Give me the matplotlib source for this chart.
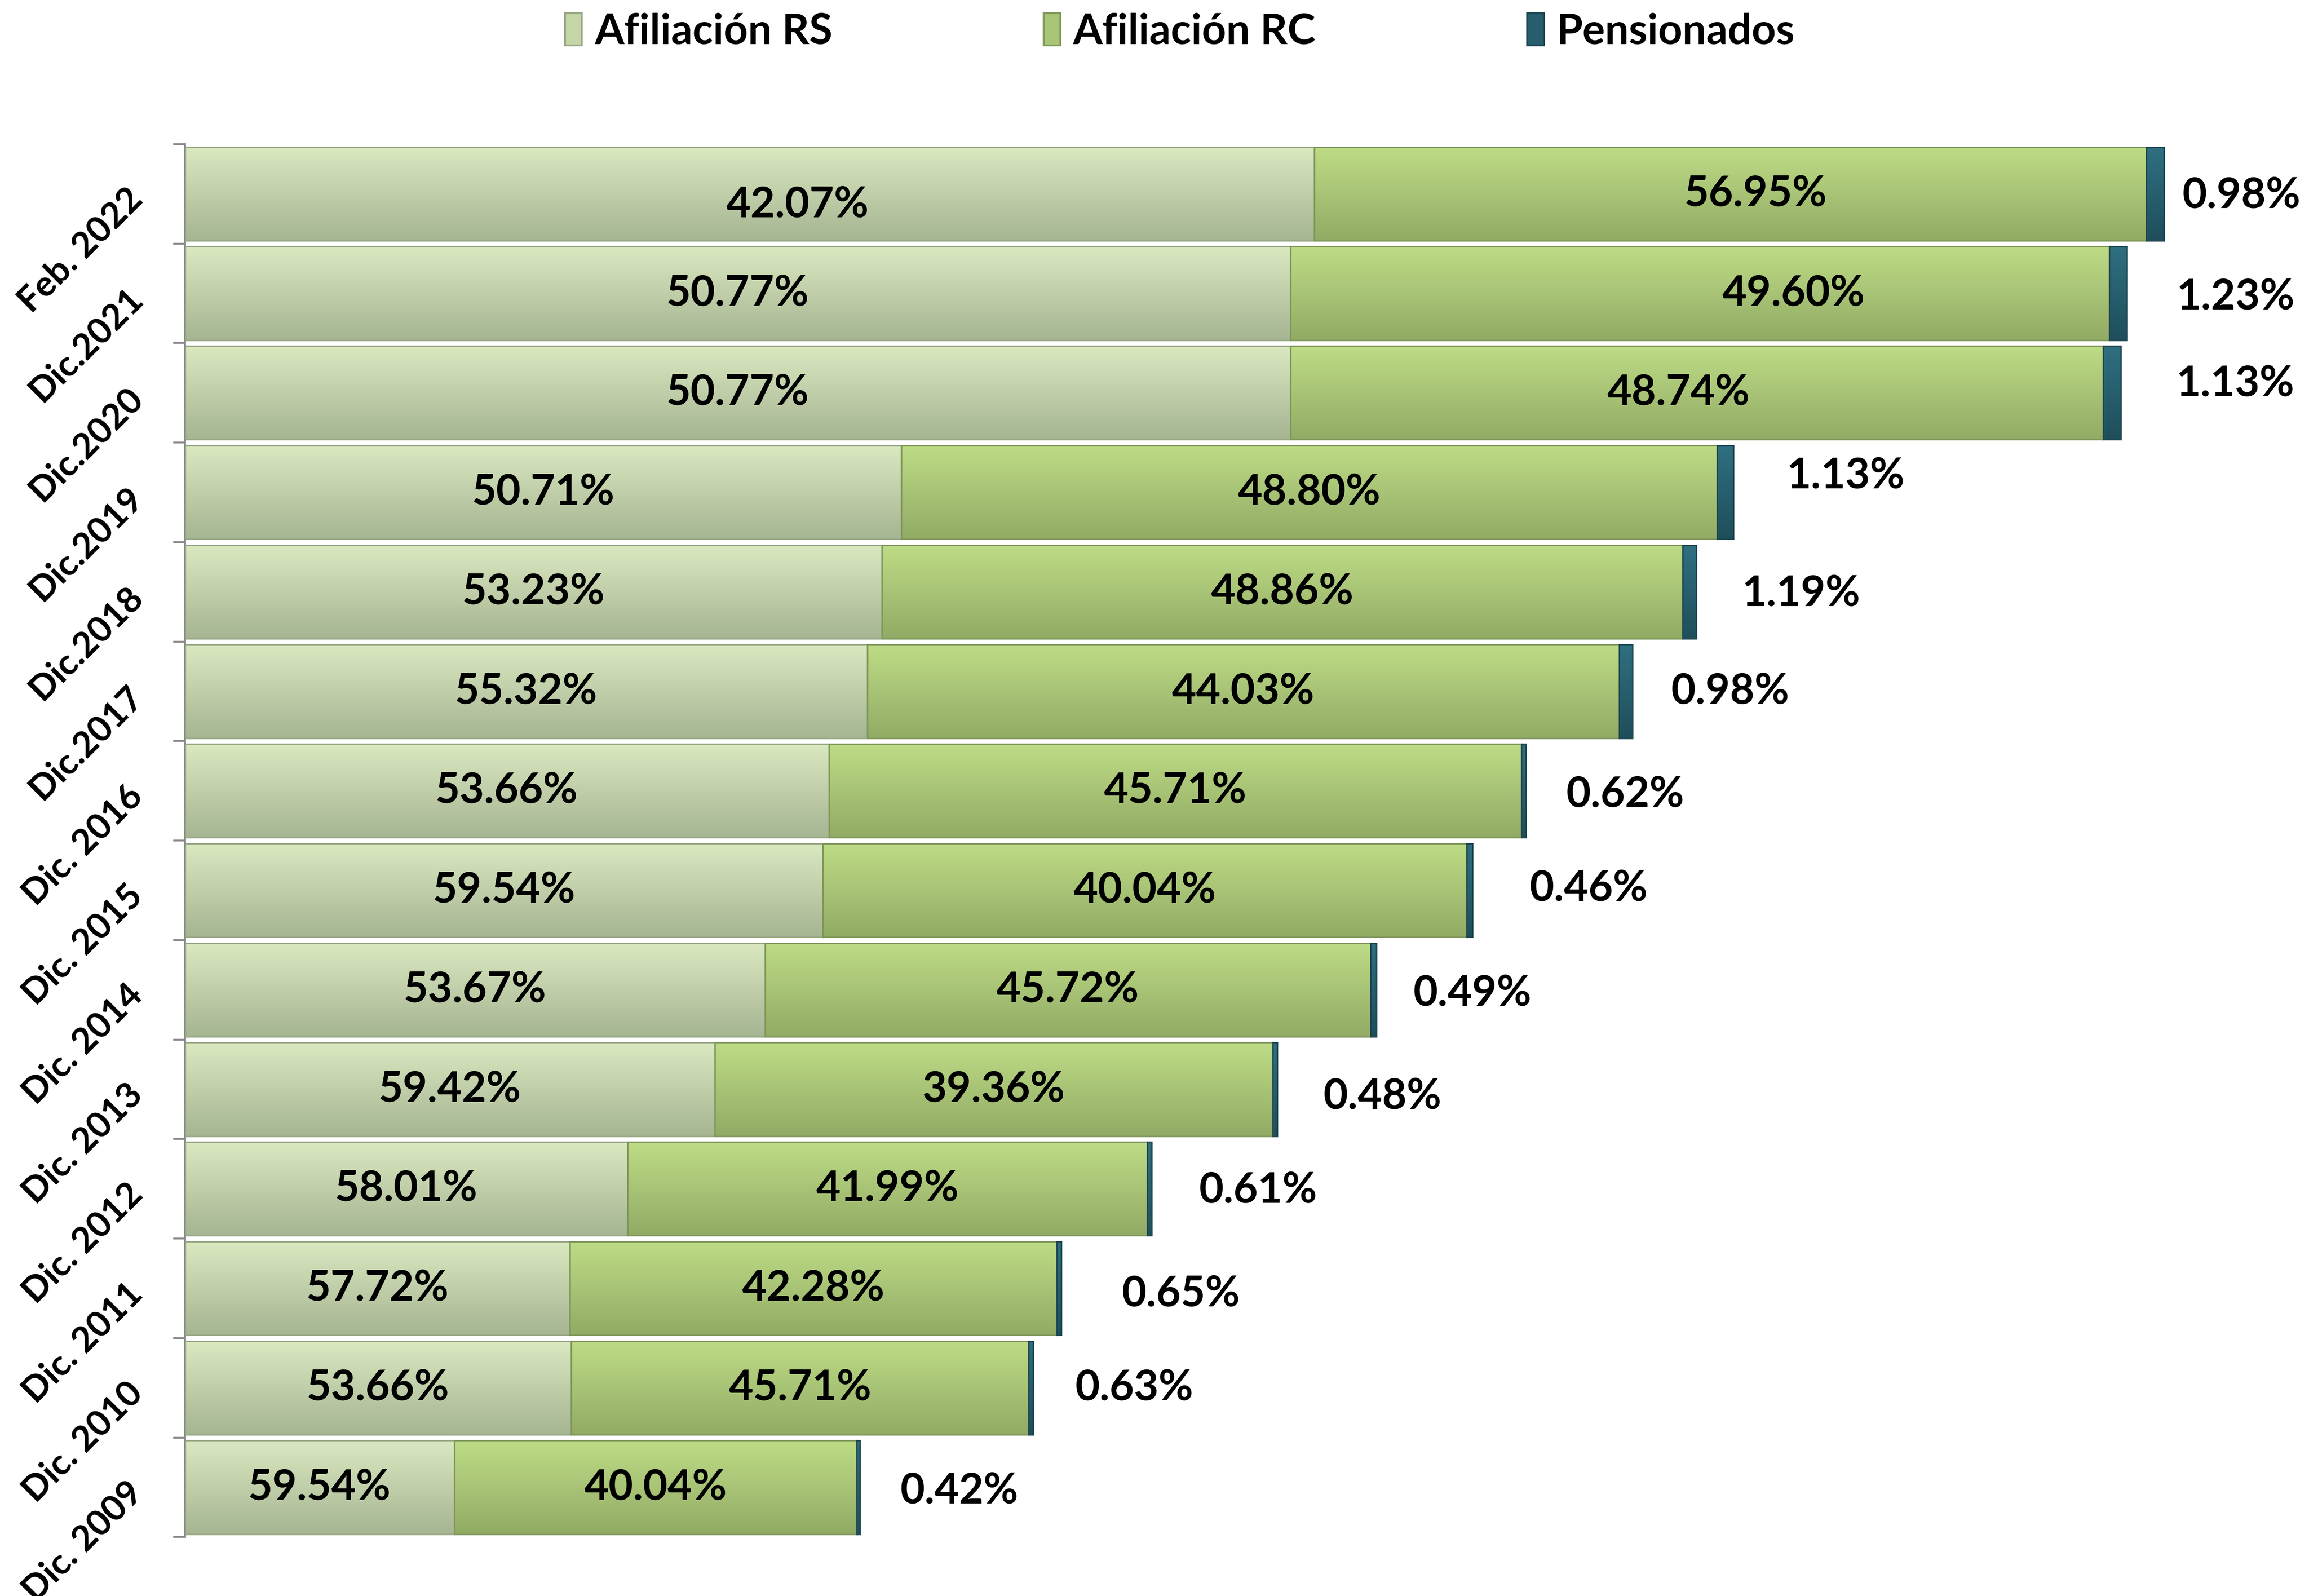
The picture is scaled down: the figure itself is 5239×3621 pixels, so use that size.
import numpy as np
import matplotlib
matplotlib.use("Agg")
import matplotlib.pyplot as plt
from matplotlib.colors import LinearSegmentedColormap
from matplotlib.patches import Patch

plt.rcParams["font.family"] = ["Lato", "DejaVu Sans"]
plt.rcParams["font.weight"] = "bold"

# categories, top to bottom
periods = ["Feb. 2022", "Dic.2021", "Dic.2020", "Dic.2019", "Dic.2018", "Dic.2017",
           "Dic. 2016", "Dic. 2015", "Dic. 2014", "Dic. 2013", "Dic. 2012",
           "Dic. 2011", "Dic. 2010", "Dic. 2009"]

# bar lengths (relative units)
afil_rs = [763, 747, 747, 484, 471, 461, 435, 431, 392, 358, 299, 260, 261, 182]
afil_rc = [562, 553, 549, 551, 541, 508, 468, 435, 409, 377, 351, 329, 309, 272]
pension = [12, 12, 12, 11, 9, 9, 3, 4, 4, 3, 3, 3, 3, 2]

# percentage labels
lab_rs = ["42.07%", "50.77%", "50.77%", "50.71%", "53.23%", "55.32%", "53.66%",
          "59.54%", "53.67%", "59.42%", "58.01%", "57.72%", "53.66%", "59.54%"]
lab_rc = ["56.95%", "49.60%", "48.74%", "48.80%", "48.86%", "44.03%", "45.71%",
          "40.04%", "45.72%", "39.36%", "41.99%", "42.28%", "45.71%", "40.04%"]
lab_pen = ["0.98%", "1.23%", "1.13%", "1.13%", "1.19%", "0.98%", "0.62%",
           "0.46%", "0.49%", "0.48%", "0.61%", "0.65%", "0.63%", "0.42%"]

series = ["Afiliación RS", "Afiliación RC", "Pensionados"]
shades = [("#dae9c0", "#a6b592"), ("#bedc86", "#92ab65"), ("#2f7081", "#1f4e5b")]
edges = ["#97a683", "#7f9659", "#1b4550"]

# hand-placed label nudges (points), as in the original chart
pen_dx = [10, 27, 30, 29, 25, 21, 22, 31, 20, 25, 26, 33, 23, 22]
pen_dy = [-1, -2, 5, 9, -1, 0, -2, 1, -2, -4, -1, -3, 0, -2]
rs_dx = [26, 0, 0, 0, 0, 0, 0, 0, 0, 0, 0, 0, 0, 0]
rs_dy = [-6, 0, 0, 0, 0, 0, 0, 0, 0, 0, 0, 0, 0, 0]
rc_dx = [14, 51, -10, 0, 0, 0, 0, 0, 0, 0, 0, 0, 0, 0]


def shade(ax, bars, top, bottom):
    # vertical gradient clipped to each bar
    grad = np.linspace(0, 1, 256).reshape(-1, 1)
    cmap = LinearSegmentedColormap.from_list("g", [top, bottom])
    for b in bars:
        x, y = b.get_x(), b.get_y()
        w, h = b.get_width(), b.get_height()
        im = ax.imshow(grad, cmap=cmap, aspect="auto", origin="upper",
                       extent=(x, x + w, y + h, y), zorder=2, interpolation="bilinear")
        im.set_clip_path(b)
        b.set_facecolor("none")


fig = plt.figure(figsize=(5239 / 300, 3621 / 300), dpi=300)
ax = fig.add_axes([0.0801, 0.0369, 0.9199, 0.8728])

y = np.arange(len(periods))
rs = np.array(afil_rs)
rc = np.array(afil_rc)
pn = np.array(pension)

h = 0.94
b1 = ax.barh(y, rs, height=h, edgecolor=edges[0], linewidth=0.8, zorder=3)
b2 = ax.barh(y, rc, left=rs, height=h, edgecolor=edges[1], linewidth=0.8, zorder=3)
b3 = ax.barh(y, pn, left=rs + rc, height=h, edgecolor=edges[2], linewidth=0.8, zorder=3)
for bars, (top, bot) in zip([b1, b2, b3], shades):
    shade(ax, bars, top, bot)

fs = 23
for i in range(len(periods)):
    ax.annotate(lab_rs[i], xy=(rs[i] / 2, y[i]), xytext=(rs_dx[i], rs_dy[i]),
                textcoords="offset points", ha="center", va="center", fontsize=fs,
                fontweight="bold", zorder=5)
    ax.annotate(lab_rc[i], xy=(rs[i] + rc[i] / 2, y[i]), xytext=(rc_dx[i], 0),
                textcoords="offset points", ha="center", va="center", fontsize=fs,
                fontweight="bold", zorder=5)
    ax.annotate(lab_pen[i], xy=(rs[i] + rc[i] + pn[i], y[i]), xytext=(pen_dx[i], pen_dy[i]),
                textcoords="offset points", ha="left", va="center", fontsize=fs,
                fontweight="bold", zorder=5)

ax.set_xlim(0, 1435)
ax.set_ylim(len(periods) - 0.5, -0.5)

ax.set_yticks(y)
ax.set_yticklabels(periods, rotation=45, ha="right", va="center",
                   rotation_mode="anchor", fontsize=19.5, fontweight="bold")
ax.set_yticks(np.arange(-0.5, len(periods), 1), minor=True)
ax.tick_params(axis="y", which="major", length=0, pad=26)
ax.tick_params(axis="y", which="minor", length=6.5, width=1, color="#8c8c8c")
ax.set_xticks([])
for s in ["top", "right", "bottom"]:
    ax.spines[s].set_visible(False)
ax.spines["left"].set_color("#8c8c8c")
ax.spines["left"].set_linewidth(1)

handles = [Patch(facecolor=c, edgecolor=e) for c, e in
           zip(["#c4d5a8", "#a9c676", "#265e6d"], edges)]
fig.legend(handles, series, loc="center", bbox_to_anchor=(0.511, 0.98), ncol=3,
           frameon=False, handlelength=0.4, handleheight=0.8,
           handletextpad=0.3, columnspacing=5.0, prop={"weight": "bold", "size": 23})

fig.savefig("out.png", dpi=300, facecolor="white")
